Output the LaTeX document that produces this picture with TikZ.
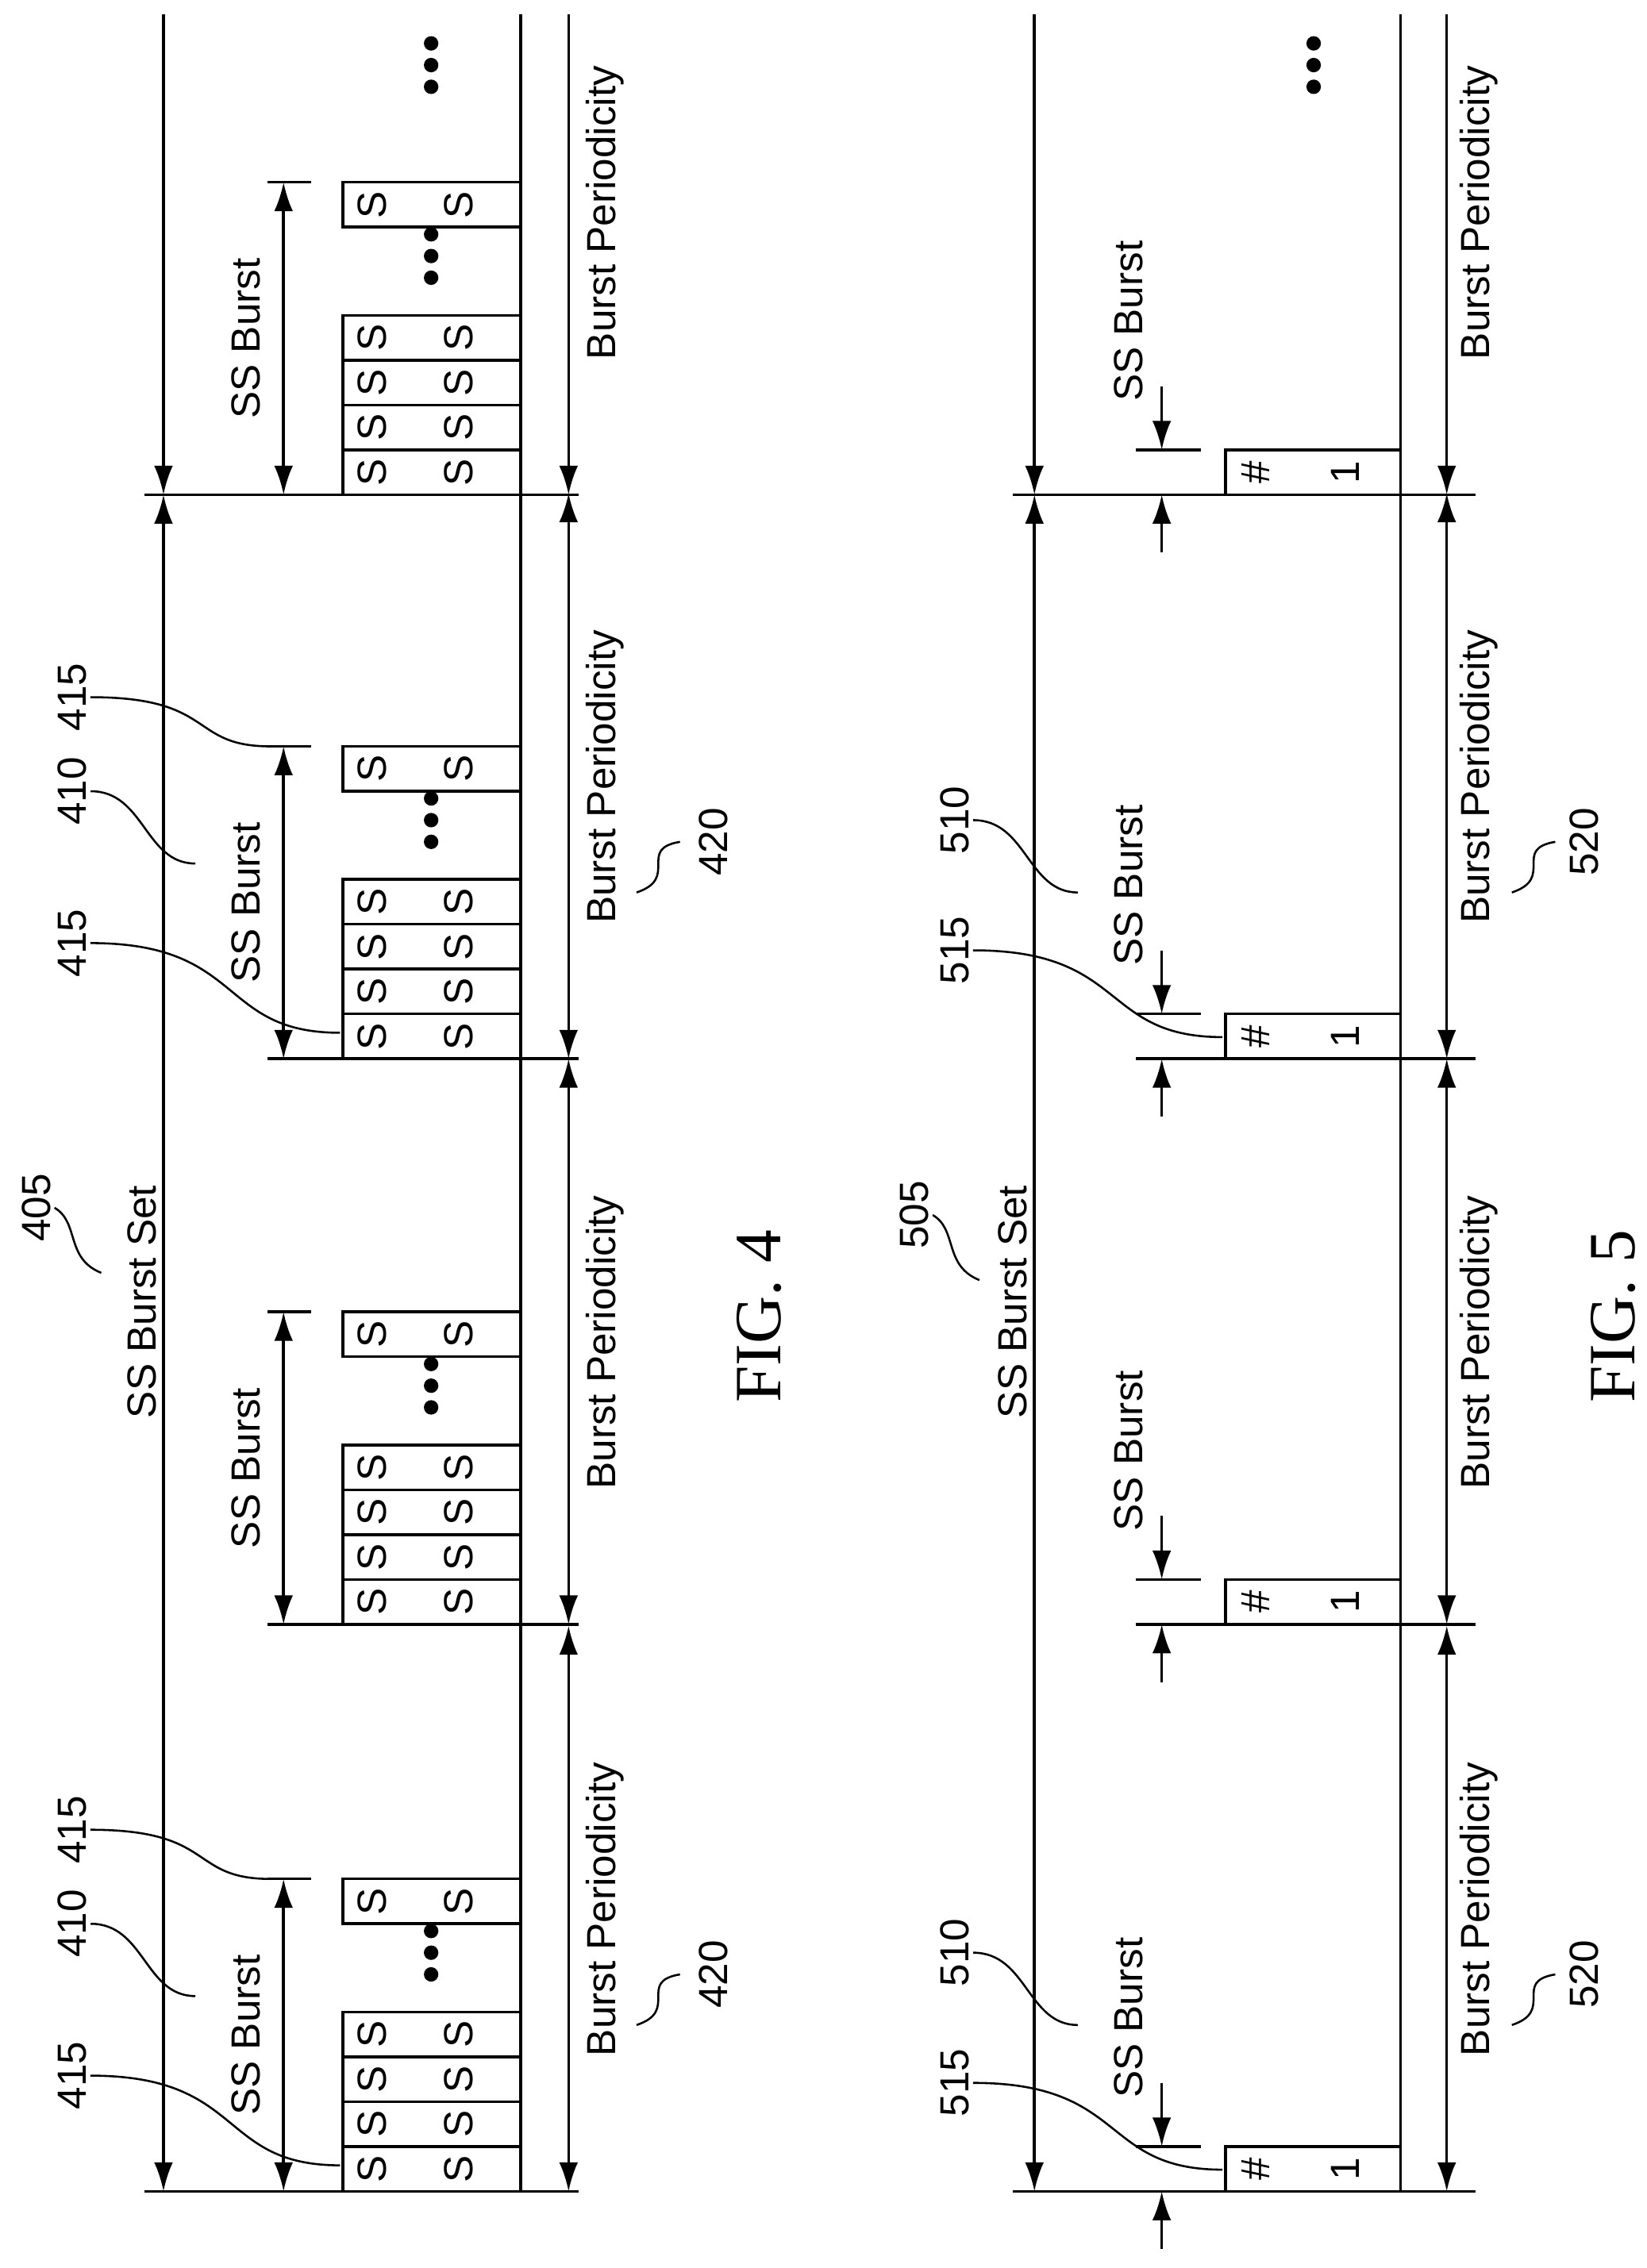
\documentclass[tikz,border=0pt]{standalone}
\usepackage{fontspec}
\setmainfont{Liberation Sans}
\newfontfamily\figfont{Liberation Serif}
\usetikzlibrary{arrows.meta}
\begin{document}
\begin{tikzpicture}[x=0.2mm,y=-0.2mm,line width=1.1pt,
  lbl/.style={rotate=90,font=\fontsize{16}{18}\selectfont,inner sep=1pt},
  blk/.style={draw,line width=1.1pt},
  arr/.style={-{Latex[length=4mm,width=2.6mm]}},
  darr/.style={{Latex[length=4mm,width=2.6mm]}-{Latex[length=4mm,width=2.6mm]}}]
  \useasboundingbox (0,0) rectangle (1138,1568);
  % FIG. 4
  \draw (360,10) -- (360,1515);
  \draw[darr] (113,342) -- (113,1515);
  \draw[arr] (113,10) -- (113,342);
  \foreach \b in {1515,1123,732,342}{
    \foreach \k in {0,1,2,3}{
      \draw[blk] (237,\b-31*\k) rectangle (360,\b-31*\k-31);
      \node[lbl] at (257,\b-31*\k-15.5) {S};
      \node[lbl] at (317,\b-31*\k-15.5) {S};
    }
    \foreach \d in {-15,0,15}
      \fill (298,\b-165+\d) circle (5);
    \draw[blk] (237,\b-185) rectangle (360,\b-216);
    \node[lbl] at (257,\b-200.5) {S};
    \node[lbl] at (317,\b-200.5) {S};
    \draw (185,\b-216) -- (215,\b-216);
    \draw[darr] (196,\b) -- (196,\b-216);
    \node[lbl] at (170,\b-108) {SS Burst};
  }
  \foreach \b in {1515,1123,732}
    \draw[darr] (393,\b) -- (393,\b-391);
  \draw[arr] (393,10) -- (393,342);
  \draw (100,1515) -- (400,1515);
  \draw (100,342) -- (400,342);
  \draw (185,1123) -- (400,1123);
  \draw (185,732) -- (400,732);
  \foreach \b in {1515,1123,732,342}
    \node[lbl] at (418,\b-195) {Burst Periodicity};
  \node[lbl] (set4) at (98,900) {SS Burst Set};
  \node[lbl] (n405) at (25,835) {405};
  \draw[line width=.8pt] (n405.south) .. controls (55,845) and (45,870) .. (70,880);
  \foreach \b in {1515,732}{
    \node[lbl] (n420) at (493,\b-150) {420};
    \draw[line width=.8pt] (440,\b-115) .. controls (470,\b-125) and (440,\b-145) .. (470,\b-150);
    \node[lbl] (n410) at (50,\b-185) {410};
    \draw[line width=.8pt] (n410.south) .. controls (100,\b-185) and (100,\b-135) .. (135,\b-135);
    \node[lbl] (n415a) at (50,\b-80) {415};
    \draw[line width=.8pt] (n415a.south) .. controls (170,\b-80) and (150,\b-18) .. (235,\b-18);
    \node[lbl] (n415b) at (50,\b-250) {415};
    \draw[line width=.8pt] (n415b.south) .. controls (150,\b-250) and (130,\b-216) .. (187,\b-216);
  }
  \node[rotate=90,font=\figfont\fontsize{26}{28}\selectfont] at (525,910) {FIG. 4};
  % FIG. 5
  \draw (968,10) -- (968,1515);
  \draw[darr] (715,342) -- (715,1515);
  \draw[arr] (715,10) -- (715,342);
  \foreach \b in {1515,1123,732,342}{
    \draw[blk] (847,\b) rectangle (968,\b-31);
    \node[lbl] at (868,\b-15.5) {\#};
    \node[lbl] at (930,\b-15.5) {1};
    \draw (785,\b-31) -- (830,\b-31);
    \draw[arr] (803,\b-75) -- (803,\b-31);
    \draw[arr] (803,\b+40) -- (803,\b);
    \node[lbl] at (780,\b-120) {SS Burst};
  }
  \foreach \d in {-15,0,15}
    \fill (908,45+\d) circle (5);
  \foreach \d in {-15,0,15}
    \fill (298,45+\d) circle (5);
  \foreach \b in {1515,1123,732}
    \draw[darr] (1000,\b) -- (1000,\b-391);
  \draw[arr] (1000,10) -- (1000,342);
  \draw (700,1515) -- (1020,1515);
  \draw (700,342) -- (1020,342);
  \draw (785,1123) -- (1020,1123);
  \draw (785,732) -- (1020,732);
  \foreach \b in {1515,1123,732,342}
    \node[lbl] at (1022,\b-195) {Burst Periodicity};
  \node[lbl] (set5) at (700,900) {SS Burst Set};
  \node[lbl] (n505) at (632,840) {505};
  \draw[line width=.8pt] (n505.south) .. controls (662,850) and (652,875) .. (677,885);
  \foreach \b in {1515,732}{
    \node[lbl] (n520) at (1095,\b-150) {520};
    \draw[line width=.8pt] (1045,\b-115) .. controls (1075,\b-125) and (1045,\b-145) .. (1075,\b-150);
    \node[lbl] (n510) at (660,\b-165) {510};
    \draw[line width=.8pt] (n510.south) .. controls (710,\b-165) and (710,\b-115) .. (745,\b-115);
    \node[lbl] (n515) at (660,\b-75) {515};
    \draw[line width=.8pt] (n515.south) .. controls (780,\b-75) and (760,\b-15) .. (845,\b-15);
  }
  \node[rotate=90,font=\figfont\fontsize{26}{28}\selectfont] at (1115,910) {FIG. 5};
\end{tikzpicture}
\end{document}
